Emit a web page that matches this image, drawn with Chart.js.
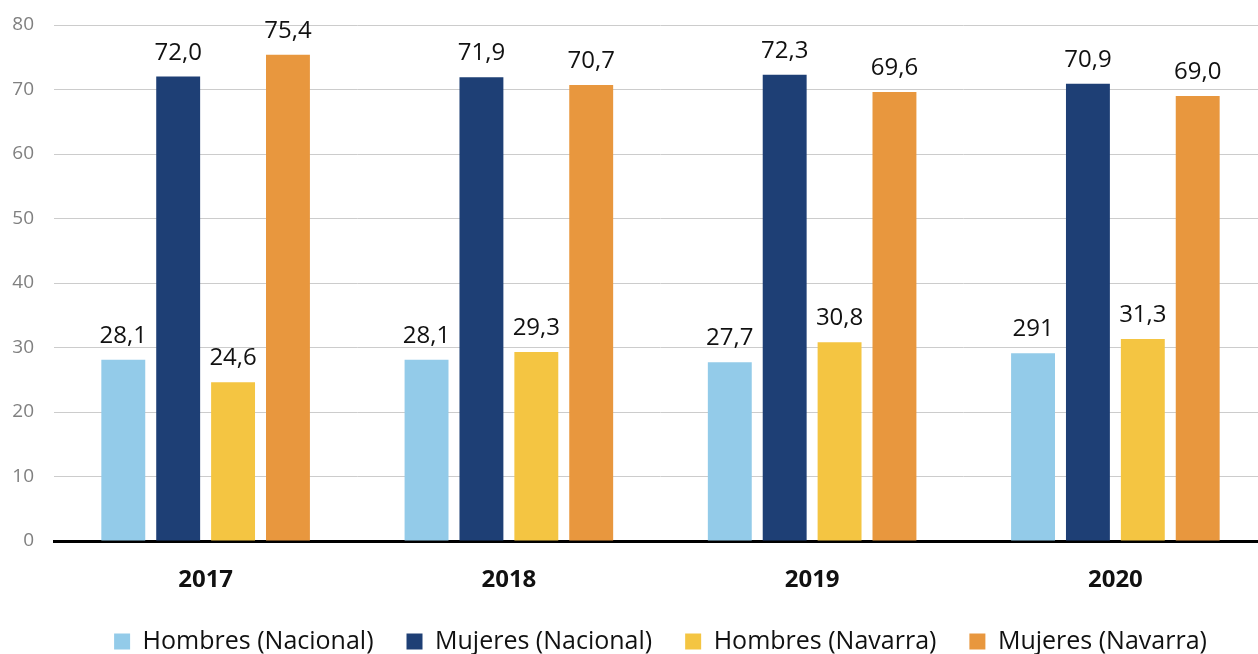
<!DOCTYPE html>
<html>
<head>
<meta charset="utf-8">
<script src="https://cdn.jsdelivr.net/npm/chart.js@4"></script>
<style>
  html, body { margin: 0; padding: 0; background: #fff; overflow: hidden; }
  #wrap { width: 1258px; height: 654px; overflow: hidden; position: relative; }
  #box { width: 1270px; height: 664px; position: absolute; left: 0; top: 0; }
</style>
</head>
<body>
<div id="wrap"><div id="box"><canvas id="chart"></canvas></div></div>
<script>
// años y series
const years = ['2017', '2018', '2019', '2020'];
const hombresNacional = [28.1, 28.1, 27.7, 29.1];
const mujeresNacional = [72.0, 71.9, 72.3, 70.9];
const hombresNavarra = [24.6, 29.3, 30.8, 31.3];
const mujeresNavarra = [75.4, 70.7, 69.6, 69.0];

// textos de las etiquetas tal como aparecen encima de cada barra
const etiquetasHN = ['28,1', '28,1', '27,7', '291'];
const etiquetasMN = ['72,0', '71,9', '72,3', '70,9'];
const etiquetasHV = ['24,6', '29,3', '30,8', '31,3'];
const etiquetasMV = ['75,4', '70,7', '69,6', '69,0'];

const FONT = "'Open Sans', sans-serif";

// pinta las etiquetas encima de las barras
const etiquetasPlugin = {
  id: 'etiquetas',
  afterDatasetsDraw(chart) {
    const ctx = chart.ctx;
    ctx.save();
    ctx.font = '400 24px ' + FONT;
    ctx.fillStyle = '#111';
    ctx.textAlign = 'center';
    ctx.textBaseline = 'alphabetic';
    chart.data.datasets.forEach((ds, i) => {
      const meta = chart.getDatasetMeta(i);
      meta.data.forEach((bar, j) => {
        ctx.fillText(ds.etiquetas[j], bar.x, bar.y - 17);
      });
    });
    ctx.restore();
  }
};

const ctx = document.getElementById('chart').getContext('2d');
new Chart(ctx, {
  type: 'bar',
  data: {
    labels: years,
    datasets: [
      { label: 'Hombres (Nacional)', data: hombresNacional, etiquetas: etiquetasHN, backgroundColor: '#93cbe9' },
      { label: 'Mujeres (Nacional)', data: mujeresNacional, etiquetas: etiquetasMN, backgroundColor: '#1e3f75' },
      { label: 'Hombres (Navarra)', data: hombresNavarra, etiquetas: etiquetasHV, backgroundColor: '#f4c542' },
      { label: 'Mujeres (Navarra)', data: mujeresNavarra, etiquetas: etiquetasMV, backgroundColor: '#e8973e' }
    ]
  },
  options: {
    responsive: true,
    maintainAspectRatio: false,
    animation: false,
    categoryPercentage: 0.724,
    barPercentage: 0.8,
    layout: { padding: { top: 0, right: 3, left: 0, bottom: 0 } },
    plugins: {
      tooltip: { enabled: false },
      legend: {
        position: 'bottom',
        fullSize: false,
        labels: {
          boxWidth: 16,
          boxHeight: 16,
          padding: 33,
          color: '#111',
          font: { family: FONT, size: 25 }
        }
      }
    },
    scales: {
      x: {
        afterFit(scale) { scale.height = 55; },
        grid: { display: false, drawTicks: false },
        border: { display: true, color: '#000', width: 3 },
        ticks: { color: '#111', padding: 27, font: { family: FONT, size: 24, weight: 'bold', lineHeight: 1 } }
      },
      y: {
        min: 0,
        max: 80,
        afterFit(scale) {
          scale.width = 54;
          scale.paddingTop = 25;
        },
        grid: {
          drawTicks: false,
          color: (c) => (c.tick && c.tick.value === 0 ? 'rgba(0,0,0,0)' : '#cccccc'),
          lineWidth: 1
        },
        border: { display: false },
        ticks: { stepSize: 10, padding: 20, color: '#808080', font: { family: FONT, size: 19 } }
      }
    }
  },
  plugins: [etiquetasPlugin]
});
</script>
</body>
</html>
